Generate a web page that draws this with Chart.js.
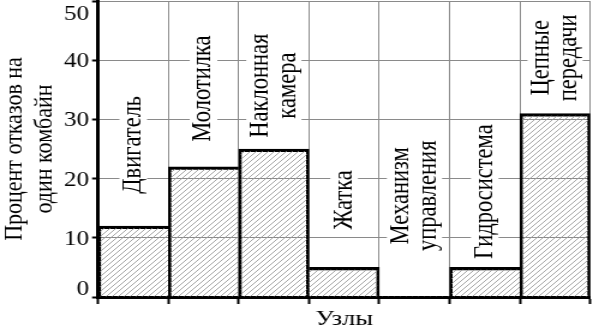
<!DOCTYPE html>
<html>
<head>
<meta charset="utf-8">
<script src="https://cdn.jsdelivr.net/npm/chart.js@4.4.1/dist/chart.umd.min.js"></script>
<style>
  html, body { margin: 0; padding: 0; background: #fff; overflow: hidden; }
  #wrap { width: 593px; height: 335px; overflow: hidden; }
  /* the source picture is stretched horizontally by ~1.2 */
  #chart { display: block; transform: scaleX(1.2004); transform-origin: 0 0; }
</style>
</head>
<body>
<div id="wrap"><canvas id="chart" width="494" height="335"></canvas></div>
<script>
const categories = [
  ['Двигатель'], ['Молотилка'], ['Наклонная', 'камера'], ['Жатка'],
  ['Механизм', 'управления'], ['Гидросистема'], ['Цепные', 'передачи']
];
const failures = [12, 22, 25, 5, 0, 5, 31];
const yTitle = ['Процент отказов на', 'один комбайн'];
const xTitle = 'Узлы';

const SERIF = '"Liberation Serif", "Times New Roman", serif';
Chart.defaults.font.family = SERIF;
Chart.defaults.color = '#000';

function hatch() {
  const c = document.createElement('canvas');
  c.width = 5; c.height = 5;
  const g = c.getContext('2d');
  g.strokeStyle = '#9c9c9c';
  g.lineWidth = 0.9;
  g.beginPath();
  g.moveTo(-1, 6); g.lineTo(6, -1);
  g.moveTo(-1, 1); g.lineTo(1, -1);
  g.moveTo(4, 6); g.lineTo(6, 4);
  g.stroke();
  return g.createPattern(c, 'repeat');
}

// y tick labels: kept inside the plot height like in the source
const yLabels = {
  id: 'yLabels',
  afterDraw(chart) {
    const { ctx, scales: { y }, chartArea } = chart;
    ctx.save();
    ctx.font = '21px ' + SERIF;
    ctx.fillStyle = '#000';
    ctx.textAlign = 'right';
    ctx.textBaseline = 'middle';
    y.ticks.forEach(t => {
      let py = y.getPixelForValue(t.value) + 1.5;
      py = Math.min(Math.max(py, chartArea.top + 13), chartArea.bottom - 8);
      ctx.fillText(String(t.value), y.right - 7.5, py);
    });
    ctx.restore();
  }
};

// vertical category names written inside the columns
const columnLabels = {
  id: 'columnLabels',
  afterDatasetsDraw(chart, args, opts) {
    const { ctx, scales: { x, y } } = chart;
    ctx.save();
    ctx.font = '22.5px ' + SERIF;
    ctx.textAlign = 'center';
    ctx.textBaseline = 'middle';
    chart.data.labels.forEach((lines, i) => {
      const cx = x.getPixelForValue(i);
      const cy = y.getPixelForValue(opts.levels[i]);
      const n = lines.length;
      const w = Math.max(...lines.map(s => ctx.measureText(s).width));
      ctx.save();
      ctx.translate(cx, cy);
      ctx.rotate(-Math.PI / 2);
      ctx.fillStyle = '#fff';
      ctx.fillRect(-w / 2 - 3, -n * opts.gap / 2, w + 6, n * opts.gap);
      ctx.fillStyle = '#000';
      lines.forEach((s, k) => ctx.fillText(s, 0, (k - (n - 1) / 2) * opts.gap));
      ctx.restore();
    });
    ctx.restore();
  }
};

new Chart(document.getElementById('chart'), {
  type: 'bar',
  data: {
    labels: categories,
    datasets: [{
      data: failures,
      backgroundColor: hatch(),
      borderColor: '#000',
      borderSkipped: 'start',
      borderWidth: c => {
        const d = c.dataset.data, i = c.dataIndex, v = d[i];
        const prev = i > 0 ? d[i - 1] : 0;
        const next = i < d.length - 1 ? d[i + 1] : 0;
        return { top: 2.6, bottom: 0, left: v > prev ? 2.1 : 0, right: v >= next ? 2.1 : 0 };
      },
      barPercentage: 1,
      categoryPercentage: 1
    }]
  },
  options: {
    responsive: false,
    devicePixelRatio: 1,
    animation: false,
    layout: { padding: { left: 0, right: 2.3, top: 1, bottom: 0 } },
    plugins: {
      legend: { display: false },
      tooltip: { enabled: false },
      columnLabels: { levels: [25.7, 35.2, 35.7, 16.4, 17.1, 17.8, 40.4], gap: 23 }
    },
    scales: {
      x: {
        offset: true,
        grid: { offset: true, color: '#8a8a8a', lineWidth: 1, tickLength: 7, tickColor: '#000', tickWidth: 2 },
        border: { color: '#000', width: 3 },
        ticks: { display: false },
        title: { display: true, text: xTitle, color: '#000', font: { size: 22, lineHeight: 1 }, padding: { top: 0, bottom: 5 } },
        afterFit: s => { s.height = 38; }
      },
      y: {
        min: 0, max: 50,
        ticks: { display: false, stepSize: 10 },
        grid: { color: '#8a8a8a', lineWidth: 1, tickLength: 5, tickColor: '#000', tickWidth: 2 },
        border: { color: '#000', width: 3 },
        title: { display: true, text: yTitle, color: '#000', font: { size: 22, lineHeight: 1.1 }, padding: { top: 0.5, bottom: 0 } },
        afterFit: s => { s.width = 81.7; }
      }
    }
  },
  plugins: [yLabels, columnLabels]
});
</script>
</body>
</html>
